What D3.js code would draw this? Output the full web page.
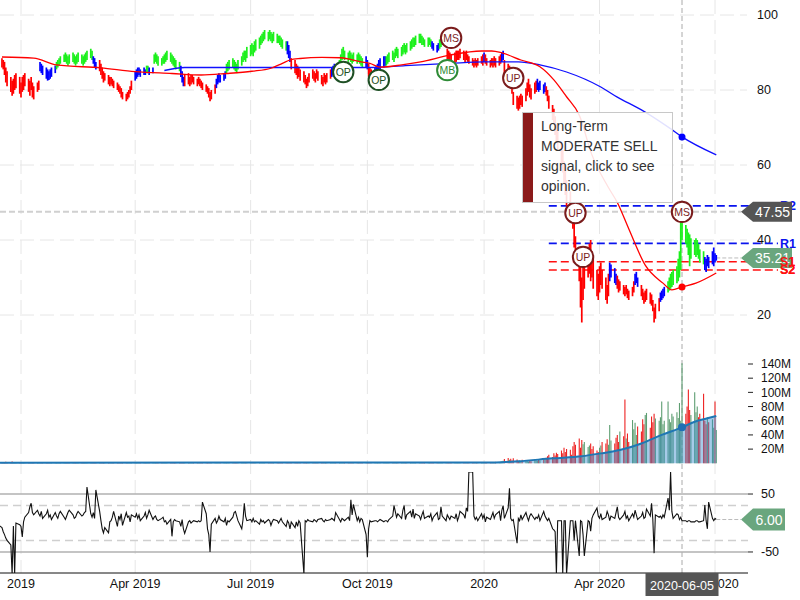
<!DOCTYPE html>
<html><head><meta charset="utf-8">
<script src="https://cdn.jsdelivr.net/npm/d3@7"></script>
<style>body{margin:0;background:#fff}svg{display:block;font-family:"Liberation Sans",Arial,sans-serif}</style>
</head><body><svg id="c" width="800" height="600"></svg>
<script>
// ---------------- DATA ----------------
const startDate = "2018-12-14";
const tickDates = ["2019-01-01","2019-04-01","2019-07-01","2019-10-01","2020-01-01","2020-04-01","2020-07-01"];
const tickLabels = ["2019","Apr 2019","Jul 2019","Oct 2019","2020","Apr 2020","Jul 2020"];
const priceTicks = [20,40,60,80,100];
const volTicks = [20,40,60,80,100,120,140];
const oscTicks = [50,-50];
const oscBands = [30,-30];

const low = [
86.5,86,85.5,84,82,81,79.5,78.5,79,80,80.5,79,78,79.5,80,81,79.5,78.5,80,78,77.5,79.5,80,
85,84.5,84,83,82.5,82.7,83,83.5,84.5,
85.5,86,86.5,87,87.5,87.5,87,86.5,87,87.5,87,86.5,87,87.5,87,86.5,87,87.5,88,88.5,88,
87,86,85.5,
85,84,83,82,82.5,81.5,81,81.5,81,80.5,80,79.5,79,78,77.5,77,77.5,78,79,80,
82.5,83,83.5,84,83.5,84,84,84.5,84.5,84,84.5,
87,87.5,87,86.5,86.5,87,87,87.5,88,87.5,87,86.5,86,85.5,85,
83.5,82,81,
81,81.5,81,81.5,82,81.5,81,81.5,81,80.5,80,79.5,79,78,77,77.5,79,
80.5,81.5,82,82,82.5,83,
84.5,85,85.5,86,85.5,85,84.5,85.5,86.5,87.5,88,87.5,88.5,89,89.5,89,90,90.5,91,92,92.5,93,93.5,93,93.5,93,92.5,93,92.5,92.5,92,91.5,91,90.5,
89.5,88.5,87.5,
85.5,84.5,84,83,83.5,82.5,82,81.5,80.5,81,82,83,82.5,82,83,82.5,81.5,81,82,81.5,82,83,
83.5,84,84.5,84,
85.5,87,88,88.5,88,87.5,88,87.5,87,87.5,87,87.5,87,86.5,86,
86,85.5,83.5,83,83.5,84,
84,84.5,85,85.5,86,86.5,
86.5,87,87.5,88,87.5,88.5,89,88.5,89,89.5,90,89.5,90,90.5,91,91.5,91.5,92,92.5,92.5,92,92,91.5,91.5,92,91.5,
91,90.5,90,90.5,
91,91.5,92,92.5,
88,87.5,87,86.5,87,87.5,88,88,88.5,88,87.5,88,87.5,87,86.5,86,86.5,86,86.5,87,86.5,87.5,87,86.5,86,86.5,86,86.5,86,86.5,87,87.5,88,
84.5,84,84.5,82,79,
76,75,74.5,75,76,75.5,77,78.5,79.5,78,77.5,79,
79.5,80,79.5,80,79,79.5,78.5,
77,75,72,71,68,66,64,60,58,55,52,49,47,45,
43,38,34,29,22,18,24,27,30,31,29,30,27,25,24,26,28,27,24,23,25,
29,30,28.5,28,
27,26,26.5,25.5,25,25.5,24.5,24,25,26,
28,28.5,27.5,
25,24,23,23.5,24,23,22.5,21,18,19,21,
23.5,24,24.5,25,
26,26.5,27,27.5,28,28.5,29,30,32,40,39,38,36,33,35,36,35.5,36,35,34,33.5,
32,31.5,33,32.5,33.5,33,34,34.5
];
const high = [
89,88.5,88,87.5,86,85,83.5,82.5,83,84,84.5,83.5,82,83.5,84,84.5,83,82.5,83.5,82,81,82,82.5,
87.5,87,86.5,86,85.5,85,85.5,86,86.5,
87.5,88,88.5,89,89.5,90,89.5,89,89.5,90,89.5,89,89.5,90,89.5,89,89.5,90,90.5,91,90.5,
89,88.5,87.5,
88,87,86,85,84.5,84,83.5,83.5,83,82.5,82,81.5,81,80.5,79.5,79,79.5,80,81,82.5,
85,85.5,86,86,85.5,86,85.5,86.5,86.5,86,86,
89.5,90,89.5,89,88.5,89,89.5,90,90.5,90,89.5,89,88.5,88,87.5,
86.5,85,83.5,
84,84.5,83.5,84,84,83.5,83,83.5,83,82.5,82,81.5,81,80.5,79.5,80,81.5,
83,84,84.5,84,84.5,85,
87,87.5,88,88.5,88,87.5,87,88,89,90,90.5,90.5,91.5,92,92.5,92,93,93.5,94,94.5,95,95.5,96,95.5,96,95.5,95,95.5,95,94.5,94.5,94,93.5,93,
93,92,90.5,
88.5,88,87,86.5,86,85.5,85,84,83,83.5,84.5,85.5,85,84.5,85.5,85,84,83.5,84.5,84,84.5,85.5,
86,86.5,87,86.5,
88,89.5,91,91.5,90.5,90,90.5,90,89.5,90,89.5,90,89.5,89,88.5,
89,88,87,86,85.5,86,
86.5,87,88,88.5,89,89,
89,89.5,90,90.5,90,91,91.5,91,91.5,92,92.5,92,92.5,93,93.5,94,94,94.5,95,95,94.5,94,93.5,94,94,93.5,
93,92.5,92,92.5,
93.5,94,94.5,95,
91,90.5,90,89.5,90,90.5,90.5,90.5,91,90.5,90,90.5,89.5,89,88.5,88,88.5,88,88.5,89,89.5,90,89.5,88.5,88,88.5,88.5,89,88.5,89,89.5,90,90.5,
88,87,86.5,85,83,
79.5,78.5,78,78.5,79,78.5,80.5,82,83,81.5,80.5,82,
82.5,83,82,82.5,81.5,82,81,
80,78.5,76,75,73,71,69,66,64,61,59,56,53,50,
48,46,41,38,36,30,33,34,38,39,40,37,35,32,31,33,34,32,30,28,31,
34,33.5,32.5,31,
30.5,29.5,29,28,27.5,28,27,26.5,27.5,29,
31,31.5,30,
28,27,26,26.5,27,26,25.5,24,22,23,24.5,
26,26.5,27,27.5,
29,30,31,31.5,32,33,35,37,45,45.5,44,43,42,41.5,40.5,40,40.5,40,39,37.5,37,
35.5,35,36,35.5,37,38,36.5,36
];
// bar colour runs: r = red, g = green, b = blue
const barColorRuns = [["r",23],["b",9],["g",21],["b",3],["r",20],["b",7],["g",2],["b",2],["g",15],["b",3],
["r",17],["b",6],["g",34],["b",3],["r",22],["b",4],["g",15],["b",2],["r",3],["b",7],["g",26],["b",4],["g",4],
["r",21],["b",1],["r",9],["b",2],["r",18],["b",5],["r",36],["b",4],["r",10],["b",3],["r",11],["b",4],["g",21],["b",8]];
const lastClose = 35.21;

const redMaIdx = [1,20,32,57,76,97,114,128,142,153,160,164,170,181,192,204,209,215,226,237,254,271,277,283,294,305,312,320,326,334,343,348,355,364,374,379,385,392,404];
const redMa    = [88.8,88.5,86.7,85.9,84.9,84.4,84,84.4,85,85.8,87.1,88,88.4,88.7,88.6,87.5,87.1,86.1,86.7,87.5,89.3,90.4,90.4,89.9,88,86.2,82.7,78.2,73.3,62.7,54,50,43,33.3,28.5,26.7,27.5,28.5,31.2];
const blueMaIdx = [93,105,142,170,198,210,229,254,273,292,305,320,339,348,361,377,385,404];
const blueMa    = [85.2,86,86,86,86,86,86.5,87.1,87.5,87.5,86.7,84.8,80.8,78.1,74.7,69.9,67.5,62.7];

const signalIdx  = [194,214,252,255,290,325,329,385];
const signalVal  = [84.8,82.7,85.3,93.9,83.2,47.2,35.5,47.5];
const signalText = ["OP","OP","MB","MS","UP","UP","UP","MS"];

const levelNames  = ["R2","R1","S1","S2"];
const levelValues = [49.1,39.1,34.2,32.0];
const levelStart  = "2020-02-21";

const crossDate  = "2020-06-05";
const crossValue = 47.55;

// volume in millions
const volume = [
1.2,0.9,1.4,1.8,2.2,1.6,1.9,2.4,1.5,1.1,0.9,1.3,1.0,0.8,1.2,
1.0,0.7,0.9,1.4,1.1,0.8,0.6,0.9,1.2,0.8,0.7,1.0,0.9,0.6,0.8,
0.7,0.9,1.1,0.8,0.6,0.7,0.9,1.0,0.8,0.6,0.5,0.7,0.9,0.8,0.6,
0.7,0.8,1.0,0.9,0.7,0.6,0.8,1.1,1.3,0.9,0.8,1.2,1.0,0.9,0.8,
0.7,0.9,0.8,0.6,0.7,0.9,1.0,0.8,0.9,1.1,1.3,1.0,0.9,0.8,0.7,
0.9,1.0,0.8,0.7,0.6,0.8,0.7,0.9,0.6,0.5,0.7,0.8,0.6,0.7,0.9,
0.8,0.6,0.5,0.7,0.6,0.8,0.7,0.6,0.5,0.6,0.8,1.0,1.2,0.9,1.1,
0.8,0.7,0.9,0.6,0.7,0.8,0.6,0.7,0.9,0.8,1.0,1.1,1.3,1.0,0.9,
0.8,0.9,0.7,0.6,0.8,0.7,0.6,0.5,0.7,0.6,0.8,0.7,0.6,0.9,0.8,
0.7,0.6,0.8,0.9,0.7,0.6,0.5,0.7,0.6,0.8,0.7,0.5,0.6,0.7,0.6,
0.5,0.6,0.8,0.7,0.6,0.5,0.7,0.6,0.8,0.9,0.7,1.0,1.1,0.9,0.8,
1.2,0.9,1.0,0.8,0.7,0.9,1.1,0.8,1.0,0.7,0.6,0.8,0.7,0.6,0.8,
0.7,0.6,0.8,0.7,0.9,0.8,0.6,0.7,0.6,0.8,0.9,0.7,0.6,0.8,0.7,
0.6,0.5,0.7,0.6,0.8,0.7,0.6,0.5,0.6,0.7,0.9,1.2,1.0,1.1,0.8,
0.7,0.8,0.6,0.7,0.6,0.5,0.7,0.6,0.5,0.6,0.7,0.6,0.8,0.7,0.6,
0.5,0.6,0.7,0.6,0.5,0.6,0.5,0.7,0.6,0.5,0.6,0.7,0.6,0.8,0.7,
0.6,0.7,0.9,0.8,0.7,0.6,0.7,0.9,1.0,0.8,0.9,1.2,1.0,0.9,0.8,
0.7,0.8,0.9,0.7,0.8,0.6,0.7,0.9,1.0,0.8,0.9,1.1,1.3,1.0,1.2,
1.0,1.4,1.1,1.3,1.6,1.2,1.5,1.8,1.4,1.7,2.0,1.6,2.2,2.8,3.5,
6,7.5,5,6.5,4,7,5.5,3,
4,3,5,3.5,4,2.5,4.5,3,5,4,3.5,5.5,4,6,5,8,
10,12,9,14,11,15,13,
18,14,22,16,20,19,12,
24,30,26,35,22,33,
27,30,23,25,28,20,24,18,
16,22,25,30,28,34,26,
54,
32,28,36,40,30,45,38,
90,35,42,30,61,
48,57,40,52,45,
62,55,68,71,50,66,58,70,63,60,65,
87,55,60,87,
62,58,70,66,72,64,
85,60,141,70,80,104,75,68,100,
72,80,65,70,98,
60,55,65,58,62,50,87,47
];
const volAvgIdx = [0,280,292,311,328,339,350,361,373,385,391,399,404];
const volAvg    = [0.9,1.2,2.8,7,10,14,18.7,28,40,50.7,58.6,63.4,66.6];

const osc = [
-3,-8,-15,-20,-26,-30,-38,-88,-5,-88,0,-3,-6,-24,2,10,18,28,34,18,14,22,16,
12,20,8,16,22,10,14,6,18,12,8,16,20,10,6,12,18,22,14,8,10,16,20,12,14,
18,20,62,16,10,18,8,57,20,4,-10,-17,-8,-17,2,
4,10,20,-6,12,6,16,-4,18,10,12,2,14,
10,16,8,14,4,12,18,8,14,22,6,10,12,6,4,8,10,2,
4,-2,6,-23,
2,6,4,2,-6,6,-10,-18,2,4,0,
2,4,2,4,2,4,36,16,-10,-20,-50,-2,
8,0,4,12,6,2,8,-4,4,2,
10,18,20,12,4,-10,6,34,12,
4,6,2,8,2,4,-2,6,2,4,0,6,4,-4,2,6,4,0,
4,8,2,-6,4,0,-10,2,-8,2,-6,4,0,-88,
4,2,6,4,2,6,4,2,6,8,4,2,6,4,6,8,6,4,
18,6,2,8,6,4,10,4,40,14,32,4,10,2,8,6,-20,-59,-10,
4,2,4,4,2,4,6,2,4,4,2,6,12,30,20,10,
16,8,22,30,6,14,20,10,24,8,16,12,
6,14,20,8,12,10,16,4,10,18,6,8,28,12,
4,14,10,6,12,8,16,4,10,20,14,8,26,20,88,88,
12,6,10,4,16,8,14,2,10,6,12,18,8,14,20,
4,22,30,8,26,60,8,4,6,-35,
8,4,14,6,18,10,4,12,16,6,10,8,14,4,20,12,8,4,
8,-10,-12,-15,-88,4,4,-88,4,4,-88,4,4,4,-30,4,-57,4,2,-20,-57,4,2,-14,8,14,26,
12,8,16,6,10,20,14,4,12,8,18,28,10,6,
14,20,8,12,4,16,10,22,14,6,12,18,8,10,24,
12,34,6,-52,14,10,12,8,14,10,43,22,88,20,
8,16,14,6,10,4,4,2,4,4,2,2,4,4,2,2,4,
31,4,-10,36,8,4,8,6
];

// ---------------- CHART ----------------
const svg = d3.select("#c");
const parse = d3.utcParse("%Y-%m-%d");
const dates = [];
for (let d = parse(startDate); dates.length < high.length; d = d3.utcDay.offset(d, 1)) {
  const w = d.getUTCDay(); if (w > 0 && w < 6) dates.push(d);
}
const plotR = 748;
const x = d3.scaleUtc().domain([parse(tickDates[0]), parse(tickDates[tickDates.length-1])]).range([21, 715]);
const yP = d3.scaleLinear().domain([0,100]).range([390,15]);
const yV = d3.scaleLinear().domain([0,140]).range([463.3,364]);
const yO = d3.scaleLinear().domain([-88,88]).range([574,472]);
const xi = i => x(dates[i]);

const barColors = barColorRuns.flatMap(([c,n]) => Array(n).fill(c));
const colMap = {r:"#ff0000", g:"#1cf01c", b:"#0000ff"};

svg.append("defs").append("clipPath").attr("id","oscClip")
  .append("rect").attr("x",0).attr("y",472).attr("width",plotR).attr("height",101);

// grid
const grid = svg.append("g");
grid.selectAll("line.vg").data(tickDates).join("line").attr("class","vg")
  .attr("x1",d=>x(parse(d))).attr("x2",d=>x(parse(d))).attr("y1",0).attr("y2",573)
  .attr("stroke","#e6e6e6").attr("stroke-dasharray","14,6");
grid.selectAll("line.hg").data(priceTicks).join("line").attr("class","hg")
  .attr("x1",0).attr("x2",747).attr("y1",d=>yP(d)).attr("y2",d=>yP(d))
  .attr("stroke","#e6e6e6").attr("stroke-dasharray","14,6");

// price axis labels
svg.append("g").selectAll("text").data(priceTicks).join("text")
  .attr("x",757).attr("y",d=>yP(d)).attr("dy","0.35em").attr("font-size",12.5).attr("fill","#111").text(d=>d);

// crosshair
const cx = x(parse(crossDate));
const ci = dates.findIndex(d => +d === +parse(crossDate));
svg.append("line").attr("x1",cx).attr("x2",cx).attr("y1",0).attr("y2",573)
  .attr("stroke","#aaa").attr("stroke-dasharray","5,3");
svg.append("line").attr("x1",0).attr("x2",741).attr("y1",yP(crossValue)).attr("y2",yP(crossValue))
  .attr("stroke","#d0d0d0").attr("stroke-width",2).attr("stroke-dasharray","6,3");

// support / resistance levels
const lx0 = x(parse(levelStart));
levelNames.forEach((n,k) => {
  const col = n[0]==="R" ? "#0a14ee" : "#ff1010";
  svg.append("line").attr("x1",lx0).attr("x2",778).attr("y1",yP(levelValues[k])).attr("y2",yP(levelValues[k]))
    .attr("stroke",col).attr("stroke-width",1.6).attr("stroke-dasharray","8,4");
  svg.append("text").attr("x",780).attr("y",yP(levelValues[k])).attr("dy","0.35em")
    .attr("font-size",12.5).attr("font-weight","bold").attr("fill",col).text(n);
});

// last close dashed connector
svg.append("line").attr("x1",xi(high.length-1)).attr("x2",741).attr("y1",yP(lastClose)).attr("y2",yP(lastClose))
  .attr("stroke","#bbb").attr("stroke-dasharray","4,2");

// price bars
svg.append("g").selectAll("line").data(high).join("line")
  .attr("x1",(d,i)=>xi(i)).attr("x2",(d,i)=>xi(i))
  .attr("y1",(d,i)=>yP(low[i])).attr("y2",d=>yP(d))
  .attr("stroke",(d,i)=>colMap[barColors[i]]).attr("stroke-width",1.7);

// moving averages
const maLine = (idx) => d3.line().x((d,k)=>xi(idx[k])).y(d=>yP(d)).curve(d3.curveMonotoneX);
svg.append("path").attr("d",maLine(blueMaIdx)(blueMa)).attr("fill","none").attr("stroke","#1010ff").attr("stroke-width",1.3);
svg.append("path").attr("d",maLine(redMaIdx)(redMa)).attr("fill","none").attr("stroke","#ff0000").attr("stroke-width",1.3);
svg.append("circle").attr("cx",xi(ci)).attr("cy",yP(blueMa[blueMaIdx.indexOf(ci)])).attr("r",3.5).attr("fill","#0000ff");
svg.append("circle").attr("cx",xi(ci)).attr("cy",yP(redMa[redMaIdx.indexOf(ci)])).attr("r",3.5).attr("fill","#ff0000");

// signal markers
const sigStyle = {OP:["#1e4f24","#1e4f24"], MB:["#2e8b36","#2e8b36"], MS:["#7a1c1c","#7a1c1c"], UP:["#7a1c1c","#7a1c1c"]};
const sg = svg.append("g").selectAll("g").data(signalIdx).join("g")
  .attr("transform",(d,k)=>`translate(${xi(d)},${yP(signalVal[k])})`);
sg.append("circle").attr("r",10.2).attr("fill","#fff").attr("stroke",(d,k)=>sigStyle[signalText[k]][0]).attr("stroke-width",2);
sg.append("text").attr("text-anchor","middle").attr("dy","0.36em").attr("font-size",10.5)
  .attr("fill",(d,k)=>sigStyle[signalText[k]][1]).text((d,k)=>signalText[k]);

// volume
svg.append("g").selectAll("line").data(volume).join("line")
  .attr("x1",(d,i)=>xi(i)).attr("x2",(d,i)=>xi(i)).attr("y1",yV(0)).attr("y2",d=>yV(d))
  .attr("stroke",(d,i)=> i>0 && (high[i]+low[i]) < (high[i-1]+low[i-1]) ? "#ee2222" : "#5e9e72")
  .attr("stroke-width",1.1);
const vArea = d3.area().x((d,k)=>xi(volAvgIdx[k])).y0(yV(0)).y1(d=>yV(d)).curve(d3.curveMonotoneX);
const vLine = d3.line().x((d,k)=>xi(volAvgIdx[k])).y(d=>yV(d)).curve(d3.curveMonotoneX);
svg.append("path").attr("d",vArea(volAvg)).attr("fill","#3a8ccc").attr("fill-opacity",0.45);
svg.append("path").attr("d",vLine(volAvg)).attr("fill","none").attr("stroke","#1f77b4").attr("stroke-width",2);
svg.append("circle").attr("cx",xi(ci)).attr("cy",yV(volAvg[volAvgIdx.indexOf(ci)])).attr("r",4).attr("fill","#1f6fb4");
const va = svg.append("g").selectAll("g").data(volTicks).join("g").attr("transform",d=>`translate(0,${yV(d)})`);
va.append("line").attr("x1",748).attr("x2",753).attr("stroke","#222");
va.append("text").attr("x",761).attr("dy","0.35em").attr("font-size",12).attr("fill","#111").text(d=>d+"M");

// oscillator panel
svg.append("g").selectAll("line").data(oscBands).join("line")
  .attr("x1",0).attr("x2",plotR).attr("y1",d=>yO(d)).attr("y2",d=>yO(d))
  .attr("stroke","#cfcfcf").attr("stroke-width",1.5).attr("stroke-dasharray","8,5");
svg.append("g").selectAll("line").data(oscTicks).join("line")
  .attr("x1",0).attr("x2",plotR).attr("y1",d=>yO(d)).attr("y2",d=>yO(d))
  .attr("stroke","#b0b0b0").attr("stroke-width",1.6);
svg.append("path").attr("clip-path","url(#oscClip)")
  .attr("d",d3.line().x((d,i)=>xi(i)).y(d=>yO(d))(osc))
  .attr("fill","none").attr("stroke","#111").attr("stroke-width",1.1);
const oa = svg.append("g").selectAll("g").data(oscTicks).join("g").attr("transform",d=>`translate(0,${yO(d)})`);
oa.append("line").attr("x1",748).attr("x2",753).attr("stroke","#222");
oa.append("text").attr("x",761).attr("dy","0.35em").attr("font-size",12.5).attr("fill","#111").text(d=>d);
const oLast = osc[osc.length-1];
svg.append("line").attr("x1",xi(osc.length-1)).attr("x2",741).attr("y1",yO(oLast)).attr("y2",yO(oLast))
  .attr("stroke","#bbb").attr("stroke-dasharray","4,2");

// bottom axis
svg.append("line").attr("x1",0).attr("x2",plotR).attr("y1",573).attr("y2",573).attr("stroke","#111");
svg.append("g").selectAll("text").data(tickDates).join("text")
  .attr("x",d=>x(parse(d))).attr("y",588).attr("text-anchor","middle").attr("font-size",12.5).attr("fill","#111")
  .text((d,k)=>tickLabels[k]);

// value tags
function tag(yc, fill, txt, right, hh) {
  svg.append("path").attr("d",`M741,${yc} L753,${yc-hh} L${right},${yc-hh} L${right},${yc+hh} L753,${yc+hh} Z`).attr("fill",fill);
  svg.append("text").attr("x",(753+right)/2).attr("y",yc).attr("dy","0.36em").attr("text-anchor","middle")
    .attr("font-size",14).attr("fill","#fff").text(txt);
}
tag(yP(crossValue), "#555", crossValue.toFixed(2), 792, 10);
tag(yP(lastClose), "#6aa67e", lastClose.toFixed(2), 792, 10);
tag(yO(oLast), "#6aa67e", oLast.toFixed(2), 785, 11);
// S1/S2 labels sit above the green tag
levelNames.forEach((n,k) => { if (n[0]==="S") svg.append("text").attr("x",780).attr("y",yP(levelValues[k])).attr("dy","0.35em")
  .attr("font-size",12.5).attr("font-weight","bold").attr("fill","#ff1010").text(n); });

// crosshair date box
svg.append("rect").attr("x",cx-36.5).attr("y",573).attr("width",73).attr("height",23).attr("fill","#555");
svg.append("text").attr("x",cx).attr("y",585).attr("dy","0.36em").attr("text-anchor","middle")
  .attr("font-size",12.5).attr("fill","#fff").text(crossDate);

// tooltip
const tip = svg.append("g").attr("transform","translate(522,112)");
tip.append("rect").attr("x",0.5).attr("y",0.5).attr("width",150).attr("height",90)
  .attr("fill","#fff").attr("fill-opacity",0.88).attr("stroke","#c8c8c8");
tip.append("rect").attr("x",1).attr("y",1).attr("width",10).attr("height",89).attr("fill","#8b1a1a");
["Long-Term","MODERATE SELL","signal, click to see","opinion."].forEach((t,k) =>
  tip.append("text").attr("x",19).attr("y",19+20*k).attr("font-size",14).attr("fill","#333").text(t));
</script></body></html>
